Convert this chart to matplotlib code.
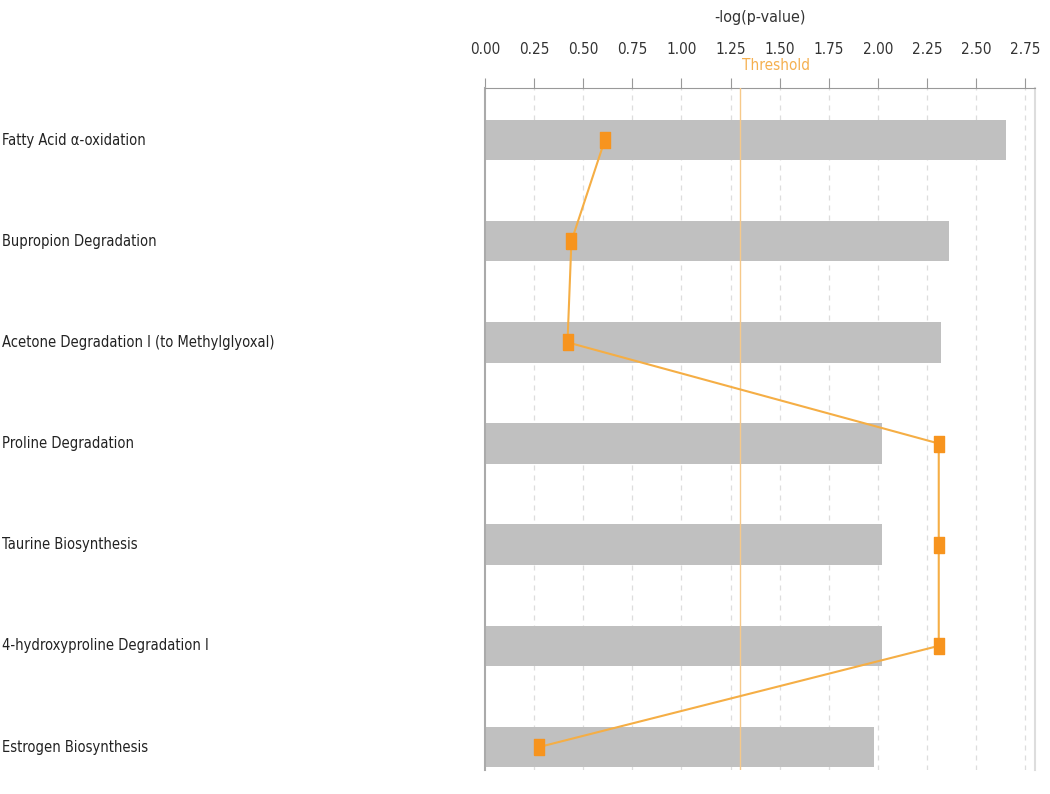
import matplotlib
matplotlib.use("Agg")
import matplotlib.pyplot as plt
import matplotlib.transforms as mtransforms

categories = [
    "Fatty Acid \u03b1-oxidation",
    "Bupropion Degradation",
    "Acetone Degradation I (to Methylglyoxal)",
    "Proline Degradation",
    "Taurine Biosynthesis",
    "4-hydroxyproline Degradation I",
    "Estrogen Biosynthesis",
]
neg_log_p = [2.65, 2.36, 2.32, 2.02, 2.02, 2.02, 1.98]
ratio = [0.61, 0.44, 0.42, 2.31, 2.31, 2.31, 0.275]
threshold = 1.30
xticks = [0.00, 0.25, 0.50, 0.75, 1.00, 1.25, 1.50, 1.75, 2.00, 2.25, 2.50, 2.75]

plt.rcParams["font.family"] = ["DejaVu Sans"]
plt.rcParams["font.stretch"] = "condensed"

fig = plt.figure(figsize=(10.5, 7.94), dpi=100)
ax = fig.add_axes([485 / 1050, 1 - 770 / 794, 550 / 1050, (770 - 88) / 794])

y = list(range(len(categories)))
ax.barh(y, neg_log_p, height=0.4, color="#C0C0C0", zorder=2)
ax.plot(ratio, y, color="#F5AE45", lw=1.5, zorder=4)
rect = [(-0.6, -1), (0.6, -1), (0.6, 1), (-0.6, 1), (-0.6, -1)]
ax.plot(ratio, y, ls="none", marker=rect, ms=11, color="#F7941E", zorder=5)
ax.axvline(threshold, color="#F6C98A", lw=1.0, zorder=3)

ax.set_xlim(0, 2.80)
ax.set_ylim(6.227, -0.514)
ax.xaxis.tick_top()
ax.xaxis.set_label_position("top")
ax.set_xticks(xticks)
ax.set_xticklabels([f"{v:.2f}" for v in xticks], fontsize=11, color="#333333")
ax.tick_params(axis="x", direction="out", length=7, width=0.8, color="#999999", pad=15)
ax.set_xlabel("-log(p-value)", fontsize=11.5, color="#333333", labelpad=15)
ax.set_yticks([])
for xv in xticks[1:]:
    ax.axvline(xv, color="#DDDDDD", lw=0.9, ls=(0, (4, 4)), zorder=1)

ax.spines["bottom"].set_visible(False)
ax.spines["left"].set_color("#AAAAAA")
ax.spines["left"].set_linewidth(1.5)
ax.spines["top"].set_color("#999999")
ax.spines["right"].set_color("#DDDDDD")
ax.spines["right"].set_linewidth(1.5)

ax.annotate("Threshold", xy=(threshold, 1.0), xycoords=("data", "axes fraction"),
            xytext=(1, 16.5), textcoords="offset points",
            fontsize=11, color="#F5B050", ha="left", va="center")

trans = mtransforms.blended_transform_factory(fig.transFigure, ax.transData)
for yi, name in zip(y, categories):
    ax.text(2 / 1050, yi, name, transform=trans, fontsize=10.5, color="#222222",
            ha="left", va="center")

fig.savefig("out.png", dpi=100)
